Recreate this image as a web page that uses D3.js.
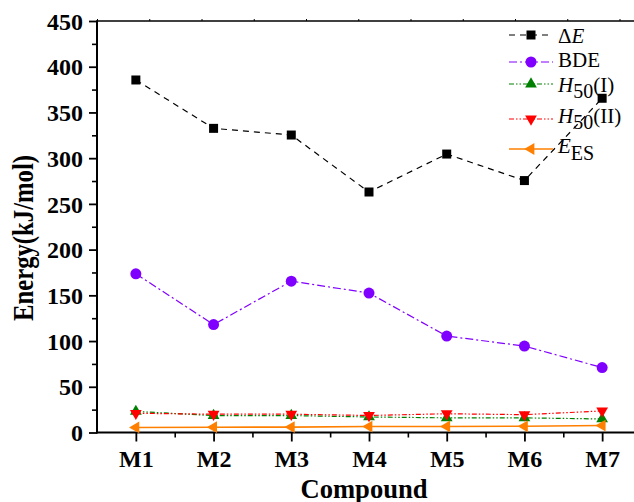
<!DOCTYPE html>
<html>
<head>
<meta charset="utf-8">
<script src="https://cdn.jsdelivr.net/npm/d3@7"></script>
<style>
body{margin:0;background:#fff}
svg, svg text{font-family:"Liberation Serif","Times New Roman",Times,serif}
</style>
</head>
<body>
<svg></svg>
<script>
var compounds = ["M1","M2","M3","M4","M5","M6","M7"]
var deltaE = [385.5, 332.6, 325.3, 263, 304.5, 275.5, 365.5]
var bde = [173.5, 118, 165.5, 152.5, 105.5, 94.5, 71]
var h50I = [23, 18.5, 18.5, 17, 16, 16, 14.8]
var h50II = [21, 20, 20, 18.6, 20.5, 19.5, 23.6]
var ees = [5.5, 5.8, 5.9, 6.5, 6.6, 6.8, 7.6]
var yTicks = [0,50,100,150,200,250,300,350,400,450]

var W = 634, H = 502
var svg = d3.select("svg").attr("width",W).attr("height",H)
svg.append("rect").attr("width",W).attr("height",H).attr("fill","#fff")

var x = d3.scaleLinear().domain([0.5,7.5]).range([97,641])
var y = d3.scaleLinear().domain([0,450]).range([432.5,21])
var xTop = d3.scaleLinear().domain([0,10]).range([97,619.5])

// axes
var gx = svg.append("g").attr("transform","translate(0,432.5)")
gx.call(d3.axisBottom(x).tickValues([1.5,2.5,3.5,4.5,5.5,6.5,7.5]).tickSize(5).tickFormat(""))
gx.selectAll(".tick line").attr("stroke-width",1.6)
gx.select(".domain").remove()
var gx2 = svg.append("g").attr("transform","translate(0,432.5)")
gx2.call(d3.axisBottom(x).tickValues(d3.range(1,8)).tickSize(9).tickPadding(8)
  .tickFormat((d,i)=>compounds[i]))
gx2.attr("font-family",null)
gx2.selectAll(".tick line").attr("stroke-width",1.8)
gx2.selectAll(".tick text").attr("font-size",24).attr("font-weight","bold").attr("fill","#000")
gx2.select(".domain").attr("d","M97,0H634").attr("stroke-width",2)

var gy = svg.append("g").attr("transform","translate(97,0)")
gy.call(d3.axisLeft(y).tickValues(d3.range(25,450,50)).tickSize(5).tickFormat(""))
gy.selectAll(".tick line").attr("stroke-width",1.6)
gy.select(".domain").remove()
var gy2 = svg.append("g").attr("transform","translate(97,0)")
gy2.call(d3.axisLeft(y).tickValues(yTicks).tickSize(8).tickPadding(6))
gy2.attr("font-family",null)
gy2.selectAll(".tick line").attr("stroke-width",1.8)
gy2.selectAll(".tick text").attr("font-size",24).attr("font-weight","bold")
  .attr("fill","#000").attr("dy","0.34em")
gy2.select(".domain").attr("d","M0,433.5V21").attr("stroke-width",2)

var gt = svg.append("g").attr("transform","translate(0,21)")
gt.call(d3.axisTop(xTop).ticks(10).tickSize(2).tickFormat(""))
gt.select(".domain").attr("d","M96,0H634").attr("stroke-width",1.5)
gt.selectAll(".tick line").attr("stroke-width",1)

// axis titles
svg.append("text").text("Compound").attr("x",364).attr("y",498)
  .attr("text-anchor","middle").attr("font-size",27).attr("font-weight","bold")
  .attr("textLength",127).attr("lengthAdjust","spacingAndGlyphs")
svg.append("text").text("Energy(kJ/mol)")
  .attr("transform","translate(33,238) rotate(-90)")
  .attr("text-anchor","middle").attr("font-size",30).attr("font-weight","bold")
  .attr("textLength",166).attr("lengthAdjust","spacingAndGlyphs")

var series = [
  {name:"dE", values:deltaE, color:"#000000", dash:"6,5", sym:d3.symbolSquare, size:81, rot:0, w:1.2},
  {name:"BDE", values:bde, color:"#8000ff", dash:"8,3,2,3", sym:d3.symbolCircle, size:95, rot:0, w:1.2},
  {name:"H50I", values:h50I, color:"#008000", dash:"5,2,1.5,2,1.5,2", sym:d3.symbolTriangle, size:60, rot:0, w:1.2},
  {name:"H50II", values:h50II, color:"#ff0000", dash:"5,2,1.5,2,1.5,2", sym:d3.symbolTriangle, size:60, rot:180, w:1.2},
  {name:"EES", values:ees, color:"#ff8000", dash:null, sym:d3.symbolTriangle, size:60, rot:-90, w:1.6}
]

var line = d3.line().x((d,i)=>x(i+1)).y(d=>y(d))

series.forEach(s=>{
  svg.append("path").datum(s.values).attr("d",line)
    .attr("fill","none").attr("stroke",s.color).attr("stroke-width",s.w)
    .attr("stroke-dasharray",s.dash)
  svg.selectAll("path.m"+s.name).data(s.values).enter().append("path")
    .attr("class","m"+s.name)
    .attr("d",d3.symbol().type(s.sym).size(s.size))
    .attr("transform",(d,i)=>"translate("+x(i+1)+","+y(d)+") rotate("+s.rot+")")
    .attr("fill",s.color)
})

// legend
var legY = [35,62,84,119,149]
var leg = svg.append("g")
series.forEach((s,i)=>{
  leg.append("line").attr("x1",509).attr("x2",553).attr("y1",legY[i]).attr("y2",legY[i])
    .attr("stroke",s.color).attr("stroke-width",s.w).attr("stroke-dasharray",s.dash)
  leg.append("path").attr("d",d3.symbol().type(s.sym).size(s.size))
    .attr("transform","translate(531,"+legY[i]+") rotate("+s.rot+")").attr("fill",s.color)
})
var fs = 21
var t1 = leg.append("text").attr("x",558).attr("y",43).attr("font-size",fs)
t1.append("tspan").text("Δ")
t1.append("tspan").text("E").attr("font-style","italic")
leg.append("text").attr("x",558).attr("y",67).attr("font-size",fs).text("BDE")
function hLabel(yy, tail){
  var t = leg.append("text").attr("x",558).attr("y",yy).attr("font-size",fs)
  t.append("tspan").text("H").attr("font-style","italic")
  t.append("tspan").text("50").attr("dy",6).attr("font-size",20)
  t.append("tspan").text(tail).attr("dy",-6)
}
hLabel(92,"(I)")
hLabel(123,"(II)")
var t5 = leg.append("text").attr("x",558).attr("y",153).attr("font-size",fs)
t5.append("tspan").text("E").attr("font-style","italic")
t5.append("tspan").text("ES").attr("dy",7).attr("font-size",20)
</script>
</body>
</html>
